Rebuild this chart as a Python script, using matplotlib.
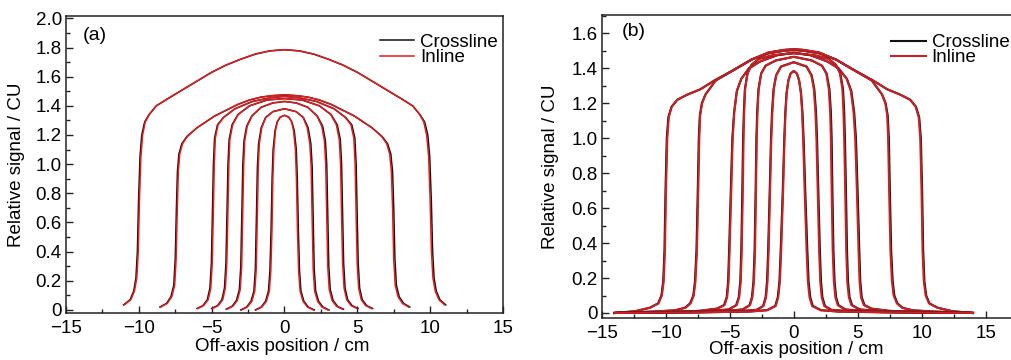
import matplotlib.pyplot as plt
from matplotlib.ticker import MultipleLocator, FuncFormatter

plt.rcParams['font.family'] = ['Liberation Sans', 'DejaVu Sans']

# ---------------- panel (a) : field sizes 20, 15, 10, 8, 6, 4, 2 cm ----------------
a20_y = [0.035, 0.07, 0.13, 0.22, 0.4, 0.75, 1.05, 1.2, 1.29, 1.34, 1.40, 1.45, 1.51, 1.57, 1.63, 1.68, 1.72, 1.755, 1.777, 1.785,
         1.777, 1.755, 1.72, 1.68, 1.63, 1.57, 1.51, 1.45, 1.40, 1.34, 1.29, 1.2, 1.05, 0.75, 0.4, 0.22, 0.13, 0.07, 0.035]
a20_x_cross = [-11.05, -10.6, -10.35, -10.2, -10.1, -10.02, -9.92, -9.8, -9.6, -9.3, -8.8, -8.0, -7.0, -6.0, -5.0, -4.0, -3.0, -2.0, -1.0, 0,
               1.0, 2.0, 3.0, 4.0, 5.0, 6.0, 7.0, 8.0, 8.8, 9.3, 9.62, 9.84, 9.97, 10.08, 10.17, 10.27, 10.42, 10.67, 11.07]
a20_x_in = [-11.0, -10.55, -10.3, -10.14, -10.04, -9.96, -9.86, -9.74, -9.56, -9.28, -8.8, -8.0, -7.0, -6.0, -5.0, -4.0, -3.0, -2.0, -1.0, 0,
            1.0, 2.0, 3.0, 4.0, 5.0, 6.0, 7.0, 8.0, 8.8, 9.28, 9.56, 9.76, 9.9, 10.0, 10.09, 10.19, 10.35, 10.6, 11.0]

a15_y = [0.02, 0.045, 0.09, 0.17, 0.35, 0.7, 0.95, 1.07, 1.14, 1.19, 1.25, 1.33, 1.41, 1.44, 1.46, 1.47, 1.475,
         1.47, 1.46, 1.44, 1.41, 1.33, 1.25, 1.19, 1.14, 1.07, 0.95, 0.7, 0.35, 0.17, 0.09, 0.045, 0.02]
a15_x_cross = [-8.55, -8.1, -7.8, -7.6, -7.5, -7.42, -7.35, -7.25, -7.05, -6.7, -6.0, -4.8, -3.2, -2.4, -1.6, -0.8, 0,
               0.8, 1.6, 2.4, 3.2, 4.8, 6.0, 6.7, 7.08, 7.3, 7.42, 7.5, 7.58, 7.68, 7.88, 8.18, 8.6]
a15_x_in = [-8.5, -8.05, -7.74, -7.54, -7.44, -7.36, -7.29, -7.19, -7.0, -6.67, -6.0, -4.8, -3.2, -2.4, -1.6, -0.8, 0,
            0.8, 1.6, 2.4, 3.2, 4.8, 6.0, 6.67, 7.02, 7.22, 7.34, 7.42, 7.5, 7.6, 7.8, 8.1, 8.52]

a10_y = [0.01, 0.03, 0.07, 0.15, 0.32, 0.65, 1.0, 1.18, 1.27, 1.32, 1.38, 1.43, 1.455, 1.465,
         1.455, 1.43, 1.38, 1.32, 1.27, 1.18, 1.0, 0.65, 0.32, 0.15, 0.07, 0.03, 0.01]
a10_x_cross = [-6.0, -5.6, -5.3, -5.12, -5.02, -4.95, -4.88, -4.8, -4.6, -4.2, -3.4, -2.2, -1.0, 0,
               1.0, 2.2, 3.4, 4.2, 4.62, 4.83, 4.92, 4.99, 5.06, 5.16, 5.34, 5.64, 6.05]
a10_x_in = [-5.95, -5.55, -5.24, -5.06, -4.96, -4.89, -4.82, -4.75, -4.56, -4.18, -3.4, -2.2, -1.0, 0,
            1.0, 2.2, 3.4, 4.18, 4.56, 4.76, 4.85, 4.92, 4.99, 5.09, 5.27, 5.57, 5.98]

a8_y = [0.01, 0.03, 0.07, 0.15, 0.32, 0.65, 1.0, 1.17, 1.27, 1.34, 1.40, 1.44, 1.45,
        1.44, 1.40, 1.34, 1.27, 1.17, 1.0, 0.65, 0.32, 0.15, 0.07, 0.03, 0.01]
a8_x_cross = [-5.0, -4.6, -4.3, -4.12, -4.02, -3.95, -3.88, -3.8, -3.6, -3.2, -2.4, -1.2, 0,
              1.2, 2.4, 3.2, 3.62, 3.83, 3.92, 3.99, 4.06, 4.16, 4.34, 4.64, 5.05]
a8_x_in = [-4.95, -4.55, -4.24, -4.06, -3.96, -3.89, -3.82, -3.75, -3.56, -3.18, -2.4, -1.2, 0,
           1.2, 2.4, 3.18, 3.56, 3.76, 3.85, 3.92, 3.99, 4.09, 4.27, 4.57, 4.98]

a6_y = [0.005, 0.025, 0.065, 0.14, 0.3, 0.65, 1.0, 1.16, 1.26, 1.33, 1.39, 1.42, 1.43,
        1.42, 1.39, 1.33, 1.26, 1.16, 1.0, 0.65, 0.3, 0.14, 0.065, 0.025, 0.005]
a6_x_cross = [-4.0, -3.6, -3.3, -3.1, -3.0, -2.93, -2.86, -2.78, -2.6, -2.25, -1.6, -0.8, 0,
              0.8, 1.6, 2.25, 2.62, 2.81, 2.9, 2.97, 3.04, 3.14, 3.34, 3.64, 4.05]
a6_x_in = [-3.95, -3.55, -3.24, -3.04, -2.94, -2.87, -2.8, -2.73, -2.56, -2.23, -1.6, -0.8, 0,
           0.8, 1.6, 2.23, 2.56, 2.74, 2.83, 2.9, 2.97, 3.07, 3.27, 3.57, 3.98]

a4_y = [0.0, 0.02, 0.06, 0.13, 0.28, 0.62, 0.98, 1.14, 1.25, 1.32, 1.36, 1.38,
        1.36, 1.32, 1.25, 1.14, 0.98, 0.62, 0.28, 0.13, 0.06, 0.02, 0.0]
a4_x_cross = [-3.0, -2.6, -2.3, -2.1, -2.0, -1.93, -1.86, -1.78, -1.6, -1.3, -0.8, 0,
              0.8, 1.3, 1.62, 1.81, 1.9, 1.97, 2.04, 2.14, 2.34, 2.64, 3.05]
a4_x_in = [-2.95, -2.55, -2.24, -2.04, -1.94, -1.87, -1.8, -1.73, -1.56, -1.28, -0.8, 0,
           0.8, 1.28, 1.56, 1.74, 1.83, 1.9, 1.97, 2.07, 2.27, 2.57, 2.98]

a2_y = [0.0, 0.02, 0.06, 0.13, 0.27, 0.55, 0.9, 1.1, 1.23, 1.29, 1.322, 1.335,
        1.322, 1.29, 1.23, 1.1, 0.9, 0.55, 0.27, 0.13, 0.06, 0.02, 0.0]
a2_x_cross = [-2.0, -1.6, -1.3, -1.1, -1.0, -0.92, -0.85, -0.78, -0.65, -0.5, -0.3, 0,
              0.3, 0.5, 0.67, 0.81, 0.88, 0.95, 1.03, 1.13, 1.33, 1.63, 2.05]
a2_x_in = [-1.95, -1.55, -1.24, -1.04, -0.94, -0.86, -0.8, -0.73, -0.62, -0.49, -0.3, 0,
           0.3, 0.49, 0.62, 0.75, 0.82, 0.89, 0.97, 1.07, 1.27, 1.57, 1.98]

# ---------------- panel (b) ----------------
b20_y = [0.0, 0.01, 0.03, 0.055, 0.1, 0.18, 0.36, 0.7, 1.0, 1.12, 1.18, 1.22, 1.25, 1.28, 1.33, 1.39, 1.45, 1.485, 1.5, 1.505,
         1.5, 1.485, 1.45, 1.39, 1.33, 1.28, 1.25, 1.22, 1.18, 1.12, 1.0, 0.7, 0.36, 0.18, 0.1, 0.055, 0.03, 0.01, 0.0]
b20_x_cross = [-14.0, -12.4, -11.25, -10.6, -10.34, -10.2, -10.1, -10.02, -9.92, -9.8, -9.55, -9.1, -8.3, -7.3, -6.2, -4.7, -3.3, -2.0, -0.8, 0.0,
               0.8, 2.0, 3.3, 4.7, 6.2, 7.3, 8.3, 9.1, 9.55, 9.8, 9.93, 10.03, 10.11, 10.21, 10.35, 10.6, 11.25, 12.4, 14.0]
b20_x_in = [-14.0, -12.4, -11.2, -10.56, -10.3, -10.16, -10.06, -9.98, -9.88, -9.76, -9.53, -9.1, -8.3, -7.3, -6.2, -4.7, -3.3, -2.0, -0.8, 0.0,
            0.8, 2.0, 3.3, 4.7, 6.2, 7.3, 8.3, 9.1, 9.52, 9.76, 9.88, 9.98, 10.06, 10.16, 10.3, 10.56, 11.2, 12.4, 14.0]

b15_y = [0.0, 0.008, 0.015, 0.03, 0.055, 0.1, 0.18, 0.36, 0.7, 1.0, 1.13, 1.2, 1.25, 1.29, 1.33, 1.39, 1.45, 1.49, 1.505, 1.51,
         1.505, 1.49, 1.45, 1.39, 1.33, 1.29, 1.25, 1.2, 1.13, 1.0, 0.7, 0.36, 0.18, 0.1, 0.055, 0.03, 0.015, 0.008, 0.0]
b15_x_cross = [-14.0, -11.0, -9.3, -8.5, -8.1, -7.85, -7.72, -7.6, -7.5, -7.42, -7.34, -7.18, -6.9, -6.5, -6.1, -4.7, -3.3, -2.0, -0.8, 0.0,
               0.8, 2.0, 3.3, 4.7, 6.1, 6.5, 6.9, 7.18, 7.34, 7.43, 7.51, 7.61, 7.73, 7.86, 8.1, 8.5, 9.3, 11.0, 14.0]
b15_x_in = [-14.0, -11.0, -9.25, -8.45, -8.05, -7.81, -7.68, -7.56, -7.46, -7.38, -7.31, -7.16, -6.9, -6.5, -6.1, -4.7, -3.3, -2.0, -0.8, 0.0,
            0.8, 2.0, 3.3, 4.7, 6.1, 6.5, 6.9, 7.15, 7.3, 7.37, 7.45, 7.55, 7.67, 7.8, 8.05, 8.45, 9.25, 11.0, 14.0]

b10_y = [0.0, 0.006, 0.012, 0.025, 0.045, 0.09, 0.18, 0.36, 0.7, 1.0, 1.15, 1.27, 1.34, 1.4, 1.44, 1.475, 1.49,
         1.475, 1.44, 1.4, 1.34, 1.27, 1.15, 1.0, 0.7, 0.36, 0.18, 0.09, 0.045, 0.025, 0.012, 0.006, 0.0]
b10_x_cross = [-14.0, -10.0, -7.4, -6.0, -5.45, -5.24, -5.13, -5.05, -4.92, -4.8, -4.66, -4.45, -4.1, -3.5, -2.6, -1.3, 0.0,
               1.3, 2.6, 3.5, 4.15, 4.5, 4.72, 4.86, 4.99, 5.12, 5.2, 5.31, 5.53, 6.08, 7.48, 10.0, 14.0]
b10_x_in = [-14.0, -10.0, -7.35, -5.95, -5.41, -5.2, -5.09, -5.01, -4.88, -4.77, -4.64, -4.44, -4.1, -3.5, -2.6, -1.3, 0.0,
            1.3, 2.6, 3.5, 4.13, 4.46, 4.67, 4.8, 4.93, 5.06, 5.14, 5.25, 5.47, 6.02, 7.42, 10.0, 14.0]

b8_y = [0.0, 0.005, 0.01, 0.02, 0.045, 0.09, 0.18, 0.36, 0.7, 1.0, 1.15, 1.28, 1.37, 1.42, 1.455, 1.475, 1.486,
        1.475, 1.455, 1.42, 1.37, 1.28, 1.15, 1.0, 0.7, 0.36, 0.18, 0.09, 0.045, 0.02, 0.01, 0.005, 0.0]
b8_x_cross = [-14.0, -10.0, -6.8, -5.1, -4.5, -4.3, -4.18, -4.1, -4.02, -3.96, -3.9, -3.82, -3.62, -3.3, -2.7, -1.6, 0.0,
              1.6, 2.7, 3.3, 3.64, 3.85, 3.94, 4.0, 4.08, 4.16, 4.24, 4.36, 4.56, 5.16, 6.86, 10.0, 14.0]
b8_x_in = [-14.0, -10.0, -6.75, -5.05, -4.46, -4.26, -4.14, -4.06, -3.98, -3.92, -3.87, -3.8, -3.61, -3.3, -2.7, -1.6, 0.0,
           1.6, 2.7, 3.3, 3.61, 3.8, 3.88, 3.94, 4.02, 4.1, 4.18, 4.3, 4.5, 5.1, 6.8, 10.0, 14.0]

b6_y = [0.0, 0.005, 0.01, 0.02, 0.045, 0.09, 0.18, 0.36, 0.7, 1.0, 1.15, 1.28, 1.37, 1.415, 1.445, 1.466,
        1.445, 1.415, 1.37, 1.28, 1.15, 1.0, 0.7, 0.36, 0.18, 0.09, 0.045, 0.02, 0.01, 0.005, 0.0]
b6_x_cross = [-14.0, -9.0, -5.6, -4.0, -3.45, -3.27, -3.15, -3.06, -2.98, -2.92, -2.86, -2.76, -2.55, -2.2, -1.4, 0.0,
              1.4, 2.2, 2.57, 2.79, 2.9, 2.96, 3.02, 3.1, 3.19, 3.31, 3.49, 4.04, 5.64, 9.0, 14.0]
b6_x_in = [-14.0, -9.0, -5.55, -3.95, -3.41, -3.23, -3.11, -3.02, -2.95, -2.89, -2.83, -2.74, -2.54, -2.2, -1.4, 0.0,
           1.4, 2.2, 2.54, 2.74, 2.84, 2.9, 2.96, 3.04, 3.13, 3.25, 3.43, 3.98, 5.58, 9.0, 14.0]

b4_y = [0.0, 0.004, 0.008, 0.018, 0.04, 0.09, 0.18, 0.36, 0.7, 1.0, 1.15, 1.28, 1.36, 1.41, 1.435,
        1.41, 1.36, 1.28, 1.15, 1.0, 0.7, 0.36, 0.18, 0.09, 0.04, 0.018, 0.008, 0.004, 0.0]
b4_x_cross = [-14.0, -8.0, -4.6, -2.9, -2.4, -2.2, -2.09, -2.0, -1.88, -1.78, -1.7, -1.58, -1.38, -1.0, 0.0,
              1.0, 1.4, 1.61, 1.74, 1.82, 1.92, 2.04, 2.13, 2.24, 2.44, 2.94, 4.64, 8.0, 14.0]
b4_x_in = [-14.0, -8.0, -4.55, -2.85, -2.36, -2.16, -2.05, -1.96, -1.85, -1.75, -1.67, -1.56, -1.37, -1.0, 0.0,
           1.0, 1.37, 1.57, 1.69, 1.77, 1.87, 1.98, 2.07, 2.18, 2.38, 2.88, 4.58, 8.0, 14.0]

b2_y = [0.0, 0.004, 0.008, 0.016, 0.04, 0.09, 0.18, 0.36, 0.7, 1.0, 1.15, 1.26, 1.33, 1.37, 1.385,
        1.37, 1.33, 1.26, 1.15, 1.0, 0.7, 0.36, 0.18, 0.09, 0.04, 0.016, 0.008, 0.004, 0.0]
b2_x_cross = [-14.0, -7.0, -3.5, -2.1, -1.45, -1.25, -1.12, -1.02, -0.86, -0.74, -0.66, -0.56, -0.42, -0.25, 0.0,
              0.25, 0.42, 0.57, 0.68, 0.77, 0.9, 1.06, 1.16, 1.29, 1.49, 2.14, 3.54, 7.0, 14.0]
b2_x_in = [-14.0, -7.0, -3.45, -2.05, -1.41, -1.21, -1.08, -0.98, -0.83, -0.72, -0.64, -0.55, -0.42, -0.25, 0.0,
           0.25, 0.42, 0.55, 0.65, 0.73, 0.85, 1.0, 1.1, 1.23, 1.43, 2.08, 3.48, 7.0, 14.0]

profiles_a = [(a20_x_cross, a20_x_in, a20_y), (a15_x_cross, a15_x_in, a15_y), (a10_x_cross, a10_x_in, a10_y),
              (a8_x_cross, a8_x_in, a8_y), (a6_x_cross, a6_x_in, a6_y), (a4_x_cross, a4_x_in, a4_y),
              (a2_x_cross, a2_x_in, a2_y)]
profiles_b = [(b20_x_cross, b20_x_in, b20_y), (b15_x_cross, b15_x_in, b15_y), (b10_x_cross, b10_x_in, b10_y),
              (b8_x_cross, b8_x_in, b8_y), (b6_x_cross, b6_x_in, b6_y), (b4_x_cross, b4_x_in, b4_y),
              (b2_x_cross, b2_x_in, b2_y)]

TICK_FS = 13.5
LABEL_FS = 13.5
LEG_FS = 13.5


def y_fmt(v, pos):
    return '0' if abs(v) < 1e-9 else f'{v:.1f}'


def x_fmt(v, pos):
    return f'{v:.0f}'.replace('-', '\u2212')


def draw_panel(ax, profiles, red, lw, ylim, ymax_tick, tag, tag_xy, leg_xy, ylab_x, xlab_xy):
    for xc, xi, y in profiles:
        lc, = ax.plot(xc, y, color='#111111', lw=lw, solid_joinstyle='round')
        li, = ax.plot(xi, y, color=red, lw=lw, solid_joinstyle='round')
    ax.set_ylim(*ylim)
    ax.set_yticks([round(0.2 * i, 1) for i in range(int(round(ymax_tick / 0.2)) + 1)])
    ax.yaxis.set_minor_locator(MultipleLocator(0.1))
    ax.set_xticks([-15, -10, -5, 0, 5, 10, 15])
    ax.xaxis.set_minor_locator(MultipleLocator(2.5))
    ax.yaxis.set_major_formatter(FuncFormatter(y_fmt))
    ax.xaxis.set_major_formatter(FuncFormatter(x_fmt))
    ax.tick_params(which='both', direction='in', labelsize=TICK_FS, width=1.0, color='#222222')
    ax.tick_params(axis='y', which='major', length=5, pad=3)
    ax.tick_params(axis='x', which='major', length=5, pad=5)
    ax.tick_params(which='minor', length=3)
    for s in ax.spines.values():
        s.set_linewidth(1.1)
        s.set_color('#222222')
    ax.set_ylabel('Relative signal / CU', fontsize=LABEL_FS)
    ax.set_xlabel('Off-axis position / cm', fontsize=LABEL_FS)
    ax.yaxis.set_label_coords(ylab_x, 0.5)
    ax.xaxis.set_label_coords(*xlab_xy)
    ax.text(tag_xy[0], tag_xy[1], tag, transform=ax.transAxes, fontsize=14, ha='left', va='center')
    ax.legend([lc, li], ['Crossline', 'Inline'], loc='upper right', bbox_to_anchor=leg_xy,
              frameon=False, fontsize=LEG_FS, borderpad=0, borderaxespad=0, handlelength=1.85,
              handletextpad=0.3, labelspacing=-0.1)


fig = plt.figure(figsize=(10.11, 3.6), dpi=100)

ax_a = fig.add_axes([0.0653, 0.1297, 0.4322, 0.8258])
ax_a.set_xlim(-15, 15)
draw_panel(ax_a, profiles_a, '#e41a1c', 1.1, (-0.023, 2.016), 2.0, '(a)', (0.038, 0.936),
           (0.988, 0.94), -0.095, (0.494, -0.082))

ax_b = fig.add_axes([0.5952, 0.1175, 0.4115, 0.8408])
ax_b.set_xlim(-15, 17.5)
draw_panel(ax_b, profiles_b, '#cc1f24', 1.5, (-0.027, 1.705), 1.6, '(b)', (0.049, 0.944),
           (0.98, 0.937), -0.103, (0.468, -0.078))

fig.savefig('out.png', dpi=100)
